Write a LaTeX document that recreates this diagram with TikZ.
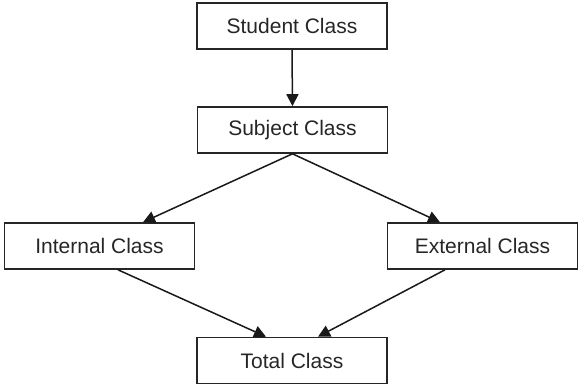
\documentclass[tikz,border=0pt]{standalone}
\usepackage{fontspec}
\setmainfont{Liberation Sans}
\usetikzlibrary{arrows.meta}
\begin{document}
\begin{tikzpicture}[x=1pt,y=-1pt,
  cls/.style={draw=black!85, line width=1.6pt, minimum width=190pt, minimum height=46pt, inner sep=0pt, font=\fontsize{21}{24}\selectfont, text=black!85},
  conn/.style={draw=black!90, line width=1.5pt, -{Triangle[length=12pt,width=12pt]}}]
\useasboundingbox (0,0) rectangle (579,386);
\node[cls] (student) at (292,26) {Student Class};
\node[cls] (subject) at (292.5,130) {Subject Class};
\node[cls] (internal) at (99.5,246) {Internal Class};
\node[cls] (external) at (482.5,246) {External Class};
\node[cls] (total) at (292,360.5) {Total Class};
\draw[conn] (student.south) -- (subject.north);
\draw[conn] (subject.south) -- (internal.north -| 143,0);
\draw[conn] (subject.south) -- (external.north -| 440,0);
\draw[conn] (internal.south -| 118,0) -- (total.north -| 266,0);
\draw[conn] (external.south -| 445,0) -- (total.north -| 318,0);
\end{tikzpicture}
\end{document}
